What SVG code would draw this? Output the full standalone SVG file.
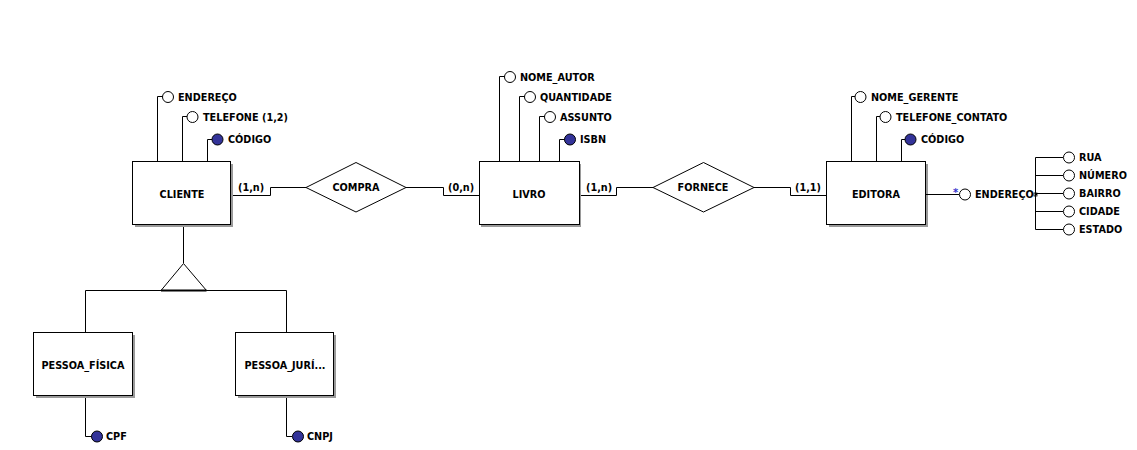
<svg xmlns="http://www.w3.org/2000/svg" width="1137" height="450" viewBox="0 0 1137 450">
<style>
text{font-family:"DejaVu Sans",Verdana,sans-serif;font-weight:bold;font-size:9.7px;fill:#000}
.ent{fill:#fff;stroke:#000;stroke-width:1}
.sh{fill:#9a9a9a}
.ln{fill:none;stroke:#000;stroke-width:1}
.ao{fill:#fff;stroke:#000;stroke-width:1}
.ak{fill:#333399;stroke:#000;stroke-width:1}
.c{text-anchor:middle}
</style>
<rect width="1137" height="450" fill="#fff"/>
<g id="connectors">
<path class="ln" d="M232.5,195.5H270.5V187.5H306"/>
<path class="ln" d="M406,187.5H443.5V195.5H479"/>
<path class="ln" d="M580,195.5H616.5V187.5H653"/>
<path class="ln" d="M754,187.5H790.5V195.5H827"/>
<path class="ln" d="M183.5,225V263"/>
<path class="ln" d="M85.5,333V290.5H286.5V333"/>
</g>
<g id="cliente">
<path class="ln" d="M157.5,162V96.5H163 M182.5,162V116.5H187 M207.5,162V139.5H212"/>
<rect class="sh" x="135" y="164" width="98" height="63"/>
<rect class="ent" x="132.5" y="161.5" width="98" height="63"/>
<text class="c" x="182" y="198">CLIENTE</text>
<circle class="ao" cx="168" cy="97" r="5.5"/><text x="178" y="101">ENDEREÇO</text>
<circle class="ao" cx="192.5" cy="117" r="5.5"/><text x="203" y="121">TELEFONE (1,2)</text>
<circle class="ak" cx="217.5" cy="139.5" r="5.5"/><text x="228" y="143">CÓDIGO</text>
<text x="238" y="191">(1,n)</text>
</g>
<g id="compra">
<polygon class="ent" points="306,187.5 356,162.5 406,187.5 356,212"/>
<text class="c" x="356" y="191">COMPRA</text>
<text x="448" y="191">(0,n)</text>
</g>
<g id="livro">
<path class="ln" d="M499.5,162V76.5H505 M519.5,162V96.5H525 M539.5,162V116.5H545 M559.5,162V139.5H565"/>
<rect class="sh" x="481" y="164" width="100" height="63"/>
<rect class="ent" x="479.5" y="161.5" width="100" height="63"/>
<text class="c" x="529" y="198">LIVRO</text>
<circle class="ao" cx="510" cy="77" r="5.5"/><text x="520" y="81">NOME_AUTOR</text>
<circle class="ao" cx="530" cy="97" r="5.5"/><text x="540" y="101">QUANTIDADE</text>
<circle class="ao" cx="550" cy="117" r="5.5"/><text x="560" y="121">ASSUNTO</text>
<circle class="ak" cx="570" cy="139.5" r="5.5"/><text x="580" y="143">ISBN</text>
<text x="586" y="191">(1,n)</text>
</g>
<g id="fornece">
<polygon class="ent" points="653,187.5 703.5,162.5 754,187.5 703.5,212"/>
<text class="c" x="703" y="191">FORNECE</text>
<text x="795" y="191">(1,1)</text>
</g>
<g id="editora">
<path class="ln" d="M851.5,162V96.5H855 M876.5,162V116.5H880 M901.5,162V139.5H905"/>
<rect class="sh" x="829" y="164" width="99" height="63"/>
<rect class="ent" x="826.5" y="161.5" width="99" height="63"/>
<text class="c" x="876" y="198">EDITORA</text>
<circle class="ao" cx="860.5" cy="97" r="5.5"/><text x="871" y="101">NOME_GERENTE</text>
<circle class="ao" cx="885.5" cy="117" r="5.5"/><text x="896" y="121">TELEFONE_CONTATO</text>
<circle class="ak" cx="910.5" cy="139.5" r="5.5"/><text x="921" y="143">CÓDIGO</text>
</g>
<g id="endereco">
<path class="ln" d="M926,194.5H959"/>
<text x="953" y="196" style="fill:#3333cc;font-size:10px">*</text>
<circle class="ao" cx="965" cy="194.5" r="5.5"/><text x="975" y="198">ENDEREÇO</text>
<rect x="1034" y="193" width="3" height="3" fill="#fff" stroke="#000" stroke-width="0.8"/>
<path class="ln" d="M1037,194.5H1035.5 M1035.5,157.5V229.5 M1035.5,157.5H1063 M1035.5,175.5H1063 M1035.5,193.5H1063 M1035.5,211.5H1063 M1035.5,229.5H1063"/>
<circle class="ao" cx="1069" cy="157.5" r="5.5"/><text x="1079" y="161">RUA</text>
<circle class="ao" cx="1069" cy="175.5" r="5.5"/><text x="1079" y="179">NÚMERO</text>
<circle class="ao" cx="1069" cy="193.5" r="5.5"/><text x="1079" y="197">BAIRRO</text>
<circle class="ao" cx="1069" cy="211.5" r="5.5"/><text x="1079" y="215">CIDADE</text>
<circle class="ao" cx="1069" cy="229.5" r="5.5"/><text x="1079" y="233">ESTADO</text>
</g>
<g id="generalizacao">
<polygon points="183.5,263.5 161,290.5 206.5,290.5" fill="#fff" stroke="#000" stroke-width="1"/>
<path d="M161,290.5H206.5" stroke="#000" stroke-width="2"/>
</g>
<g id="pessoa_fisica">
<path class="ln" d="M85.5,396V436.5H92"/>
<rect class="sh" x="36" y="335" width="99" height="63"/>
<rect class="ent" x="33.5" y="332.5" width="99" height="63"/>
<text class="c" x="83" y="369">PESSOA_FÍSICA</text>
<circle class="ak" cx="97" cy="436.5" r="5.5"/><text x="106" y="440">CPF</text>
</g>
<g id="pessoa_juridica">
<path class="ln" d="M286.5,396V436.5H292"/>
<rect class="sh" x="238" y="335" width="98" height="63"/>
<rect class="ent" x="235.5" y="332.5" width="98" height="63"/>
<text class="c" x="285" y="369">PESSOA_JURÍ...</text>
<circle class="ak" cx="298" cy="436.5" r="5.5"/><text x="307" y="440">CNPJ</text>
</g>
</svg>
